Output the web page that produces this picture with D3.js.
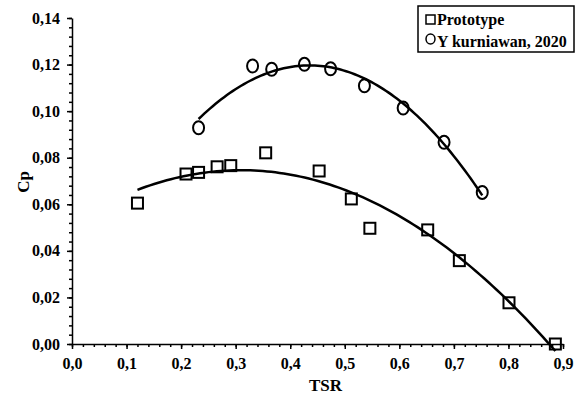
<!DOCTYPE html>
<html>
<head>
<meta charset="utf-8">
<script src="https://cdn.jsdelivr.net/npm/d3@7"></script>
<style>
  body { margin: 0; background: #fff; }
  svg { display: block; }
  text { font-family: "Liberation Serif", "Times New Roman", serif; font-weight: bold; fill: #000; }
</style>
</head>
<body>
<div id="chart"></div>
<script>
(function () {
    'use strict';
    var width = 577;
    var height = 396;
    var margin = {top: 18, right: 14, bottom: 52, left: 72};

    // data
    var protoTSR = [0.12, 0.209, 0.232, 0.266, 0.291, 0.355, 0.453, 0.512, 0.546, 0.652, 0.71, 0.801, 0.886];
    var protoCp = [0.0605, 0.073, 0.0737, 0.0761, 0.0766, 0.0821, 0.0743, 0.0623, 0.0497, 0.049, 0.0358, 0.0177, 0.0];
    var refTSR = [0.232, 0.331, 0.366, 0.426, 0.474, 0.536, 0.607, 0.682, 0.752];
    var refCp = [0.0929, 0.1194, 0.118, 0.1201, 0.1182, 0.1109, 0.1013, 0.0866, 0.0651];

    var xTicks = [0, 0.1, 0.2, 0.3, 0.4, 0.5, 0.6, 0.7, 0.8, 0.9];
    var yTicks = [0, 0.02, 0.04, 0.06, 0.08, 0.1, 0.12, 0.14];
    var legendLabels = ['Prototype', 'Y kurniawan, 2020'];

    var locale = d3.formatLocale({decimal: ',', thousands: '.', grouping: [3], currency: ['', '']});
    var fx = locale.format('.1f');
    var fy = locale.format('.2f');

    var x = d3.scaleLinear().domain([0, 0.9]).range([margin.left, width - margin.right]);
    var y = d3.scaleLinear().domain([0, 0.14]).range([height - margin.bottom, margin.top]);

    var svg = d3.select('#chart').append('svg')
        .attr('width', width)
        .attr('height', height);

    // least squares quadratic trend line (like the spreadsheet one)
    var polyFit = function (xs, ys) {
        var n = xs.length, s = [0, 0, 0, 0, 0], t = [0, 0, 0];
        for (var i = 0; i < n; i++) {
            for (var k = 0; k < 5; k++) s[k] += Math.pow(xs[i], k);
            for (var j = 0; j < 3; j++) t[j] += ys[i] * Math.pow(xs[i], j);
        }
        var m = [[s[0], s[1], s[2], t[0]], [s[1], s[2], s[3], t[1]], [s[2], s[3], s[4], t[2]]];
        for (var c = 0; c < 3; c++) {
            for (var r = c + 1; r < 3; r++) {
                var f = m[r][c] / m[c][c];
                for (var q = c; q < 4; q++) m[r][q] -= f * m[c][q];
            }
        }
        var co = [0, 0, 0];
        for (var r2 = 2; r2 >= 0; r2--) {
            var v = m[r2][3];
            for (var q2 = r2 + 1; q2 < 3; q2++) v -= m[r2][q2] * co[q2];
            co[r2] = v / m[r2][r2];
        }
        return function (v) { return co[0] + co[1] * v + co[2] * v * v; };
    };

    var line = d3.line()
        .x(function (d) { return x(d[0]); })
        .y(function (d) { return y(d[1]); });

    var trend = function (xs, ys) {
        var f = polyFit(xs, ys);
        var lo = d3.min(xs), hi = d3.max(xs);
        return d3.range(0, 101).map(function (i) {
            var v = lo + (hi - lo) * i / 100;
            return [v, f(v)];
        });
    };

    svg.append('path').datum(trend(protoTSR, protoCp))
        .attr('d', line).attr('fill', 'none').attr('stroke', '#000').attr('stroke-width', 2.5);
    svg.append('path').datum(trend(refTSR, refCp))
        .attr('d', line).attr('fill', 'none').attr('stroke', '#000').attr('stroke-width', 2.5);

    // axes
    var xMinor = d3.range(0, 0.9001, 0.02);
    var yMinor = d3.range(0, 0.1401, 0.004);

    var gxMinor = svg.append('g')
        .attr('transform', 'translate(0,' + (height - margin.bottom) + ')')
        .call(d3.axisBottom(x).tickValues(xMinor).tickSize(3).tickFormat(''));
    var gx = svg.append('g')
        .attr('transform', 'translate(0,' + (height - margin.bottom) + ')')
        .call(d3.axisBottom(x).tickValues(xTicks).tickSize(5).tickSizeOuter(0).tickPadding(9).tickFormat(fx));
    var gyMinor = svg.append('g')
        .attr('transform', 'translate(' + margin.left + ',0)')
        .call(d3.axisLeft(y).tickValues(yMinor).tickSize(3).tickFormat(''));
    var gy = svg.append('g')
        .attr('transform', 'translate(' + margin.left + ',0)')
        .call(d3.axisLeft(y).tickValues(yTicks).tickSize(5).tickSizeOuter(0).tickPadding(7).tickFormat(fy));

    [gxMinor, gx, gyMinor, gy].forEach(function (g) {
        g.selectAll('path').attr('stroke', '#000').attr('stroke-width', 1.5);
        g.selectAll('line').attr('stroke', '#000').attr('stroke-width', 1.5);
        g.selectAll('text').attr('font-size', 16).attr('font-family', null).attr('fill', '#000');
    });
    gxMinor.selectAll('path').remove();
    gyMinor.selectAll('path').remove();

    // markers
    var sq = 11;
    svg.selectAll('rect.proto').data(d3.zip(protoTSR, protoCp)).enter()
        .append('rect').attr('class', 'proto')
        .attr('x', function (d) { return x(d[0]) - sq / 2; })
        .attr('y', function (d) { return y(d[1]) - sq / 2; })
        .attr('width', sq).attr('height', sq)
        .attr('fill', 'none').attr('stroke', '#000').attr('stroke-width', 2);

    svg.selectAll('ellipse.ref').data(d3.zip(refTSR, refCp)).enter()
        .append('ellipse').attr('class', 'ref')
        .attr('cx', function (d) { return x(d[0]); })
        .attr('cy', function (d) { return y(d[1]); })
        .attr('rx', 5.5).attr('ry', 6.5)
        .attr('fill', 'none').attr('stroke', '#000').attr('stroke-width', 2);

    // axis titles
    svg.append('text').attr('x', (margin.left + width - margin.right) / 2 + 8).attr('y', 391)
        .attr('text-anchor', 'middle').attr('font-size', 17).text('TSR');
    svg.append('text').attr('transform', 'translate(29,182) rotate(-90)')
        .attr('text-anchor', 'middle').attr('font-size', 17).text('Cp');

    // legend
    var lg = svg.append('g').attr('transform', 'translate(418,6)');
    lg.append('rect').attr('width', 156).attr('height', 46)
        .attr('fill', '#fff').attr('stroke', '#000').attr('stroke-width', 1.5);
    lg.append('rect').attr('x', 8).attr('y', 9).attr('width', 9).attr('height', 9)
        .attr('fill', 'none').attr('stroke', '#000').attr('stroke-width', 1.5);
    lg.append('ellipse').attr('cx', 12.5).attr('cy', 33).attr('rx', 4.5).attr('ry', 5)
        .attr('fill', 'none').attr('stroke', '#000').attr('stroke-width', 1.5);
    lg.selectAll('text.lab').data(legendLabels).enter()
        .append('text').attr('class', 'lab')
        .attr('x', 19).attr('y', function (d, i) { return 19 + i * 22; })
        .attr('font-size', 16).text(function (d) { return d; });
}());
</script>
</body>
</html>
